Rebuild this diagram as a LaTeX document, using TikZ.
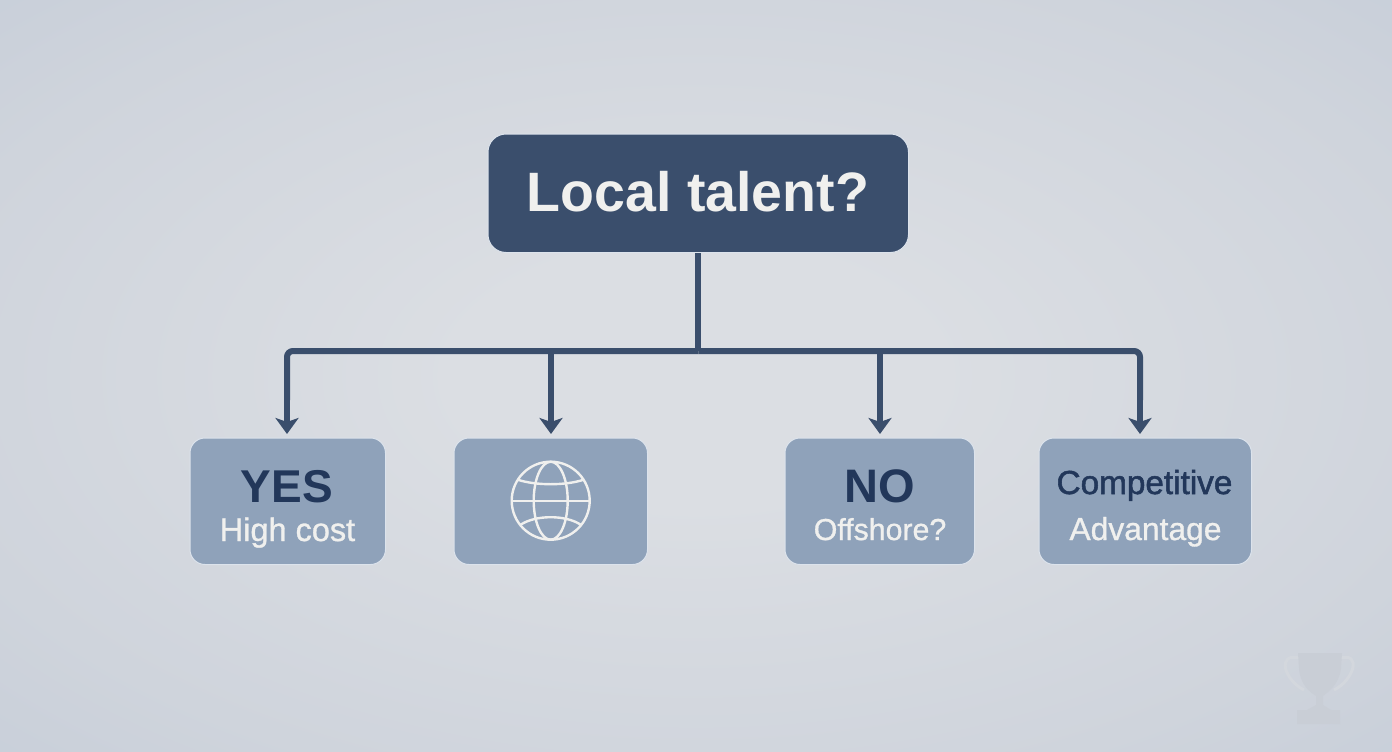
\documentclass[tikz,border=0pt]{standalone}
\usepackage{fontspec}
\setmainfont{Liberation Sans}
\newfontfamily\medfont[FakeBold=1]{Liberation Sans}
\newfontfamily\semifont[FakeBold=1.6]{Liberation Sans}
\usetikzlibrary{arrows.meta,calc}
\definecolor{navy}{HTML}{3A4E6C}
\definecolor{boxfill}{HTML}{8FA2BA}
\definecolor{boxedge}{HTML}{DCE3EC}
\definecolor{darktext}{HTML}{22375A}
\definecolor{lighttext}{HTML}{F0F0EE}
\definecolor{bgin}{HTML}{DBDEE3}
\definecolor{bgmid}{HTML}{CFD4DC}
\definecolor{bgout}{HTML}{C3CBD7}
\definecolor{cupc}{HTML}{C9CED6}
\definecolor{cupl}{HTML}{D3D7DD}
\pgfdeclareradialshading{bgshade}{\pgfpoint{0bp}{0bp}}{
  color(0bp)=(bgin); color(6bp)=(bgin); color(20bp)=(bgmid); color(30bp)=(bgout); color(50bp)=(bgout)
}
\newcommand{\fs}[1]{\fontsize{#1}{#1}\selectfont}
\tikzset{
  x=1pt,y=-1pt,
  boxnode/.style={draw=boxedge,line width=1pt,fill=#1,rounded corners=15pt,inner sep=0pt,anchor=north west},
  answer/.style={boxnode=boxfill},
  question/.style={boxnode=navy,rounded corners=18pt},
  conn/.style={draw=navy,line width=6pt},
  arrowconn/.style={conn,-{Stealth[length=16pt,width=23pt,inset=4pt]}},
  headtext/.style={text=darktext,font=\bfseries\fs{#1},inner sep=0pt,anchor=base},
  subtext/.style={text=lighttext,font=\medfont\fs{#1},inner sep=0pt,anchor=base},
  globeline/.style={draw=lighttext,line width=2.4pt},
}
\begin{document}
\begin{tikzpicture}
\useasboundingbox (0,0) rectangle (1392,752);
\clip (0,0) rectangle (1392,752);
\shade[shading=bgshade] (-288,-156) rectangle (1680,908);

% trophy
\draw[cupl,line width=3pt] (1300,658) .. controls (1276,652) and (1284,680) .. (1304,690);
\draw[cupl,line width=3pt] (1340,658) .. controls (1362,652) and (1354,680) .. (1334,690);
\fill[cupc] (1298,653) -- (1342,653) -- (1341,668) .. controls (1339,685) and (1328,692) .. (1323,696) -- (1323,705) -- (1331,710) -- (1340,710) -- (1340,724) -- (1297,724) -- (1297,710) -- (1307,710) -- (1316,705) -- (1316,696) .. controls (1310,692) and (1300,685) .. (1299,668) -- cycle;

% nodes
\node[question,minimum width=420.5pt,minimum height=118.5pt] (q) at (487.5,133.5) {};
\node[text=lighttext,font=\bfseries\fs{55.5},inner sep=0pt,anchor=base] (qt) at (698,211) {Local talent?};
\node[answer,minimum width=195.5pt,minimum height=126.5pt] (yes) at (189.5,437.5) {};
\node[answer,minimum width=193.5pt,minimum height=126.5pt] (globe) at (453.5,437.5) {};
\node[answer,minimum width=189.5pt,minimum height=126.5pt] (no) at (784.5,437.5) {};
\node[answer,minimum width=212.5pt,minimum height=126.5pt] (comp) at (1038.5,437.5) {};

\node[headtext=46] (yest) at (287,502) {YES};
\node[subtext=32.5] (yess) at (287.5,541) {High cost};
\node[headtext=47] (not) at (880,502) {NO};
\node[subtext=30.3] (nos) at (880,540) {Offshore?};
\node[text=darktext,font=\semifont\fs{33.3},inner sep=0pt,anchor=base] (compt) at (1144.5,494) {Competitive};
\node[subtext=31.8] (comps) at (1145.5,540) {Advantage};

% connectors
\coordinate (bus) at (q.south |- 0,351);
\coordinate (tipa) at (287,434);
\coordinate (tipb) at (551,434);
\coordinate (tipc) at (880,434);
\coordinate (tipd) at (1140,434);
\draw[conn] (q.south) -- (bus);
\draw[conn,rounded corners=6pt] (bus) -| (tipa |- 0,400);
\draw[conn,rounded corners=6pt] (bus) -| (tipd |- 0,400);
\draw[arrowconn] (tipa |- 0,380) -- (tipa);
\draw[arrowconn] (tipb |- 0,351) -- (tipb);
\draw[arrowconn] (tipc |- 0,351) -- (tipc);
\draw[arrowconn] (tipd |- 0,380) -- (tipd);

% globe icon
\coordinate (g) at (550.7,500.7);
\draw[globeline] (g) circle[radius=39];
\draw[globeline] (g) ellipse[x radius=17,y radius=39];
\draw[globeline] ($(g)+(-39,0)$) -- ($(g)+(39,0)$);
\draw[globeline] ($(g)+(-33,-21)$) .. controls ($(g)+(-15,-15)$) and ($(g)+(15,-15)$) .. ($(g)+(33,-21)$);
\draw[globeline] ($(g)+(-30,24)$) .. controls ($(g)+(-15,14)$) and ($(g)+(15,14)$) .. ($(g)+(30,24)$);
\end{tikzpicture}
\end{document}
